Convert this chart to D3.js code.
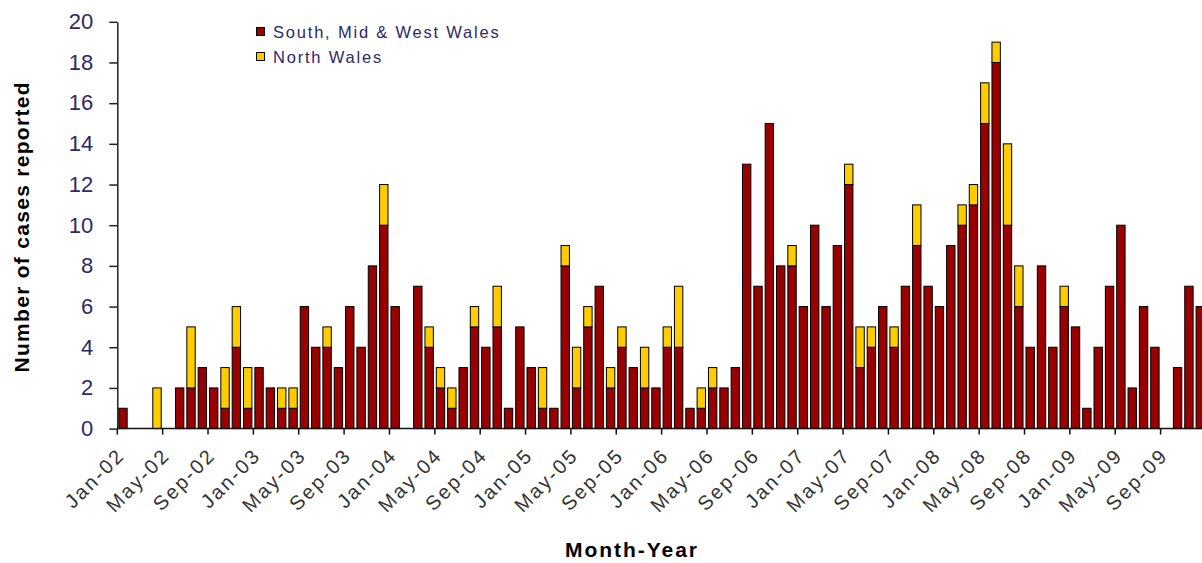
<!DOCTYPE html>
<html>
<head>
<meta charset="utf-8">
<script src="https://cdn.jsdelivr.net/npm/d3@7"></script>
<style>
  body { margin: 0; background: #fff; }
  svg { display: block; font-family: "Liberation Sans", Arial, sans-serif; }
</style>
</head>
<body>
<svg id="chart" width="1202" height="563"></svg>
<script>
// months Jan-02 .. Dec-09
var months = d3.utcMonth.range(new Date(Date.UTC(2002, 0, 1)), new Date(Date.UTC(2010, 0, 1)));
var categories = months.map(d3.utcFormat("%b-%y"));

// cases per month, South, Mid & West Wales
var south = [
  1, 0, 0, 0, 0, 2, 2, 3, 2, 1, 4, 1,     // 2002
  3, 2, 1, 1, 6, 4, 4, 3, 6, 4, 8, 10,    // 2003
  6, 0, 7, 4, 2, 1, 3, 5, 4, 5, 1, 5,     // 2004
  3, 1, 1, 8, 2, 5, 7, 2, 4, 3, 2, 2,     // 2005
  4, 4, 1, 1, 2, 2, 3, 13, 7, 15, 8, 8,   // 2006
  6, 10, 6, 9, 12, 3, 4, 6, 4, 7, 9, 7,   // 2007
  6, 9, 10, 11, 15, 18, 10, 6, 4, 8, 4, 6, // 2008
  5, 1, 4, 7, 10, 2, 6, 4, 0, 3, 7, 6     // 2009
];

// cases per month, North Wales
var north = [
  0, 0, 0, 2, 0, 0, 3, 0, 0, 2, 2, 2,
  0, 0, 1, 1, 0, 0, 1, 0, 0, 0, 0, 2,
  0, 0, 0, 1, 1, 1, 0, 1, 0, 2, 0, 0,
  0, 2, 0, 1, 2, 1, 0, 1, 1, 0, 2, 0,
  1, 3, 0, 1, 1, 0, 0, 0, 0, 0, 0, 1,
  0, 0, 0, 0, 1, 2, 1, 0, 1, 0, 2, 0,
  0, 0, 1, 1, 2, 1, 4, 2, 0, 0, 0, 1,
  0, 0, 0, 0, 0, 0, 0, 0, 0, 0, 0, 0
];

var seriesNames = ["South, Mid & West Wales", "North Wales"];
var seriesColors = ["#990000", "#ffcc00"];
var yTicks = [0, 2, 4, 6, 8, 10, 12, 14, 16, 18, 20];
var labelEvery = 4;

var rows = categories.map(function (c, i) {
  return { month: c, south: south[i], north: north[i] };
});

var svg = d3.select("#chart");

var left = 117.3, step = 11.34;
var x = d3.scaleBand()
  .domain(categories)
  .range([left, left + categories.length * step])
  .paddingInner(0.26)
  .paddingOuter(0.13);

var y = d3.scaleLinear().domain([0, 20]).range([428.6, 21.8]);

var stack = d3.stack().keys(["south", "north"]);
var layers = stack(rows);

// bars
svg.append("g").selectAll("g")
  .data(layers)
  .join("g")
  .attr("fill", function (d, i) { return seriesColors[i]; })
  .selectAll("rect")
  .data(function (d) { return d.filter(function (p) { return p[1] > p[0]; }); })
  .join("rect")
  .attr("x", function (d) { return x(d.data.month); })
  .attr("width", x.bandwidth())
  .attr("y", function (d) { return y(d[1]); })
  .attr("height", function (d) { return y(d[0]) - y(d[1]); })
  .attr("stroke", "#000")
  .attr("stroke-width", 1);

// x axis line + ticks between categories
var xTickCats = categories.filter(function (c, i) { return i % labelEvery === 0; });
var xg = svg.append("g");
xg.append("line")
  .attr("x1", left).attr("x2", left + categories.length * step)
  .attr("y1", y(0)).attr("y2", y(0))
  .attr("stroke", "#111").attr("stroke-width", 1.5);
xg.selectAll(".tk")
  .data(xTickCats)
  .join("line")
  .attr("class", "tk")
  .attr("x1", function (c) { return x(c) - x.step() * 0.13; })
  .attr("x2", function (c) { return x(c) - x.step() * 0.13; })
  .attr("y1", y(0)).attr("y2", y(0) + 6)
  .attr("stroke", "#111").attr("stroke-width", 1.5);

// x labels, rotated
var xAxis = d3.axisBottom(x).tickValues(xTickCats).tickSize(0);
var xl = svg.append("g")
  .attr("transform", "translate(0," + y(0) + ")")
  .call(xAxis);
xl.select(".domain").remove();
xl.selectAll("text")
  .attr("x", 0).attr("y", 0).attr("dy", 0)
  .attr("transform", "translate(3,28) rotate(-45)")
  .attr("text-anchor", "end")
  .attr("fill", "#333")
  .style("font-size", "20px")
  .style("letter-spacing", "2.3px");

// y axis
var yAxis = d3.axisLeft(y).tickValues(yTicks).tickSize(8).tickSizeOuter(0).tickPadding(16);
var yg = svg.append("g")
  .attr("transform", "translate(" + left + ",0)")
  .call(yAxis);
yg.select(".domain").attr("stroke", "#222").attr("stroke-width", 1.5);
yg.selectAll(".tick line").attr("stroke", "#222").attr("stroke-width", 1.5);
yg.selectAll("text")
  .attr("fill", "#2e2866")
  .attr("dy", "0.31em")
  .style("font-size", "22px");

// axis titles
svg.append("text")
  .attr("transform", "translate(29,227.5) rotate(-90)")
  .attr("text-anchor", "middle")
  .attr("textLength", 290)
  .style("font-size", "21px")
  .style("font-weight", "bold")
  .text("Number of cases reported");

svg.append("text")
  .attr("x", 631).attr("y", 557)
  .attr("text-anchor", "middle")
  .attr("textLength", 132)
  .style("font-size", "21px")
  .style("font-weight", "bold")
  .text("Month-Year");

// legend
var legend = svg.append("g").selectAll("g")
  .data(seriesNames)
  .join("g")
  .attr("transform", function (d, i) { return "translate(256.5," + (27.5 + i * 25) + ")"; });
legend.append("rect")
  .attr("width", 8).attr("height", 8)
  .attr("fill", function (d, i) { return seriesColors[i]; })
  .attr("stroke", "#000").attr("stroke-width", 1);
legend.append("text")
  .attr("x", 16.5).attr("y", 10.8)
  .attr("fill", "#2e2866")
  .style("font-size", "16.5px")
  .style("letter-spacing", "1.8px")
  .text(function (d) { return d; });
</script>
</body>
</html>
